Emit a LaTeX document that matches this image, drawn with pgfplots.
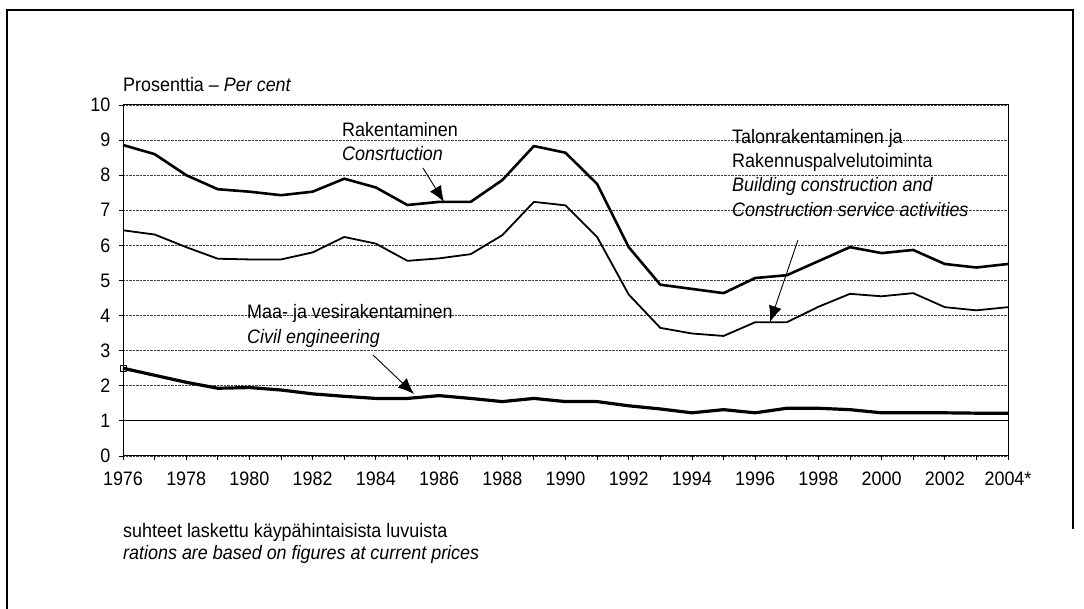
\documentclass[border=0pt]{standalone}
\usepackage{fontspec}
\setmainfont{Liberation Sans}[FakeStretch=0.92]
\usepackage{pgfplots}
\pgfplotsset{compat=1.18}
\usetikzlibrary{arrows.meta}
\pgfplotstableread{
year rak tal civ
1976 8.86 6.43 2.50
1977 8.60 6.31 2.30
1978 8.00 5.95 2.10
1979 7.60 5.62 1.93
1980 7.53 5.60 1.95
1981 7.43 5.60 1.88
1982 7.53 5.80 1.77
1983 7.90 6.24 1.70
1984 7.65 6.05 1.64
1985 7.15 5.56 1.64
1986 7.24 5.63 1.72
1987 7.24 5.75 1.64
1988 7.86 6.29 1.55
1989 8.83 7.24 1.64
1990 8.64 7.14 1.55
1991 7.75 6.24 1.55
1992 5.95 4.60 1.43
1993 4.88 3.65 1.34
1994 4.76 3.49 1.23
1995 4.64 3.42 1.32
1996 5.07 3.81 1.23
1997 5.15 3.81 1.36
1998 5.55 4.25 1.36
1999 5.95 4.62 1.32
2000 5.78 4.55 1.23
2001 5.87 4.64 1.23
2002 5.47 4.24 1.23
2003 5.37 4.15 1.22
2004 5.47 4.24 1.22
}\datatable
\begin{document}
\begin{tikzpicture}
\fontsize{19.5}{23}\selectfont
\path[use as bounding box] (0,0) rectangle (1084pt,609pt);
\draw[line width=1.5pt] (7pt,0pt) -- (7pt,599pt) -- (1073pt,599pt) -- (1073pt,80pt);
\begin{axis}[
  at={(123pt,153pt)}, anchor=south west,
  scale only axis, width=885pt, height=351pt,
  xmin=1976, xmax=2004, ymin=0, ymax=10,
  axis line style={line width=1pt, black},
  xtick={1976,1978,...,2002,2004},
  xticklabels={1976,1978,1980,1982,1984,1986,1988,1990,1992,1994,1996,1998,2000,2002,2004*},
  minor x tick num=1,
  ytick={0,1,...,10},
  tick align=outside,
  xtick pos=bottom, ytick pos=left,
  major tick length=4pt, minor tick length=4pt,
  tick style={black, line width=0.8pt},
  ymajorgrids,
  major grid style={black!75, densely dotted, line width=0.9pt},
  extra y ticks={1},
  extra y tick labels={},
  extra y tick style={grid=major, major grid style={solid, black, line width=1pt}},
  /pgf/number format/assume math mode=true,
  every tick label/.append style={font=\fontsize{19.5}{23}\selectfont},
  xticklabel style={yshift=-5pt},
  yticklabel style={xshift=-2pt},
  clip=false,
]
\addplot[black, line width=2.6pt, line join=round] table[x=year,y=rak] {\datatable};
\addplot[black, line width=1.8pt, line join=round] table[x=year,y=tal] {\datatable};
\addplot[black, line width=3.2pt, line join=round, mark=square, mark size=3pt, mark indices={1}, mark options={line width=0.8pt, fill=white}] table[x=year,y=civ] {\datatable};
\end{axis}
\node[anchor=west, inner sep=0pt] at (123pt,524pt) {Prosenttia – \textit{Per cent}};
\node[anchor=west, inner sep=0pt] at (342pt,479pt) {Rakentaminen};
\node[anchor=west, inner sep=0pt] at (342pt,455pt) {\textit{Consrtuction}};
\draw[black, line width=0.9pt, -{Latex[length=16pt,width=13pt]}] (423pt,441pt) -- (444pt,407pt);
\node[anchor=west, inner sep=0pt] at (732pt,471pt) {Talonrakentaminen ja};
\node[anchor=west, inner sep=0pt] at (732pt,447pt) {Rakennuspalvelutoiminta};
\node[anchor=west, inner sep=0pt] at (732pt,423pt) {\textit{Building construction and}};
\node[anchor=west, inner sep=0pt] at (732pt,399pt) {\textit{Construction service activities}};
\draw[black, line width=0.9pt, -{Latex[length=16pt,width=13pt]}] (798pt,369pt) -- (770pt,287pt);
\node[anchor=west, inner sep=0pt] at (247pt,296pt) {Maa- ja vesirakentaminen};
\node[anchor=west, inner sep=0pt] at (247pt,271pt) {\textit{Civil engineering}};
\draw[black, line width=0.9pt, -{Latex[length=16pt,width=13pt]}] (373pt,254pt) -- (414pt,215pt);
\node[anchor=west, inner sep=0pt] at (123pt,77pt) {suhteet laskettu käypähintaisista luvuista};
\node[anchor=west, inner sep=0pt] at (123pt,55pt) {\textit{rations are based on figures at current prices}};
\end{tikzpicture}
\end{document}
